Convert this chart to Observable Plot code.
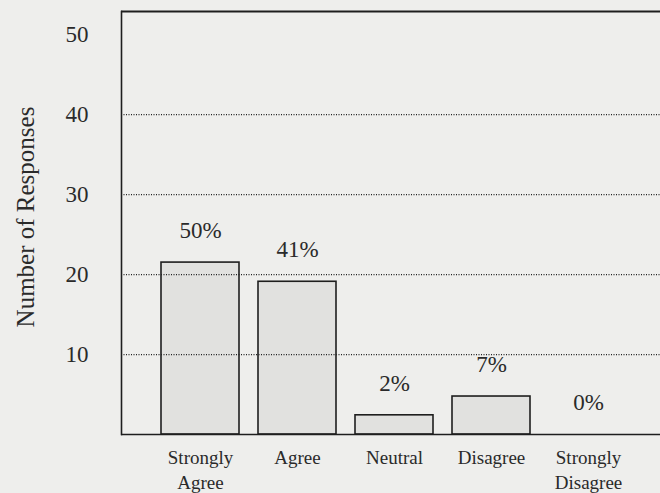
<!DOCTYPE html>
<html>
<head>
<meta charset="utf-8">
<script src="https://cdn.jsdelivr.net/npm/d3@7"></script>
<script src="https://cdn.jsdelivr.net/npm/@observablehq/plot@0.6"></script>
<style>
  html, body { margin: 0; padding: 0; background: #eeeeec; }
  #chart svg { display: block; }
</style>
</head>
<body>
<div id="chart"></div>
<script>
const categories = ["Strongly\nAgree", "Agree", "Neutral", "Disagree", "Strongly\nDisagree"];
const responses = [21.5, 19.1, 2.4, 4.75, 0];
const percents = ["50%", "41%", "2%", "7%", "0%"];
const yTicks = [10, 20, 30, 40, 50];
const gridValues = [10, 20, 30, 40];
const yTitle = "Number of Responses";
const yMax = 52.9;

const data = categories.map((c, i) => ({category: c, value: responses[i], pct: percents[i]}));

const fontFamily = "'Liberation Serif', 'Times New Roman', serif";

const chart = Plot.plot({
  width: 660,
  height: 493,
  marginLeft: 121,
  marginRight: 0,
  marginTop: 11,
  marginBottom: 59,
  style: {background: "#eeeeec", fontFamily, color: "#2a2a2a"},
  x: {domain: categories, range: [121, 667], paddingInner: 0.2, paddingOuter: 0.4, axis: null},
  y: {domain: [0, yMax]},
  marks: [
    Plot.barY(data, {x: "category", y: "value", fill: "#e1e1df", stroke: "#1e1e1e", strokeWidth: 1.6}),
    Plot.ruleY(gridValues, {stroke: "#222", strokeWidth: 1.2, strokeDasharray: "1,1.5"}),
    Plot.ruleY([0], {stroke: "#1e1e1e", strokeWidth: 1.6}),
    Plot.ruleY([yMax], {stroke: "#1e1e1e", strokeWidth: 1.8}),
    Plot.frame({anchor: "left", stroke: "#1e1e1e", strokeWidth: 1.6}),
    Plot.text(data, {x: "category", y: "value", text: "pct", dy: -32, fontSize: 23, fill: "#2a2a2a"}),
    Plot.text(data, {x: "category", text: "category", frameAnchor: "bottom", lineAnchor: "top", dy: 12, fontSize: 19, lineHeight: 1.3, fill: "#2a2a2a"}),
    Plot.axisY(yTicks, {
      tickSize: 0,
      tickPadding: 33,
      fontSize: 23,
      label: null
    }),
    Plot.text([yTitle], {frameAnchor: "left", textAnchor: "middle", lineAnchor: "middle", rotate: -90, dx: -96, dy: -6, fontSize: 25, fill: "#2a2a2a"})
  ]
});

document.getElementById("chart").append(chart);
</script>
</body>
</html>
